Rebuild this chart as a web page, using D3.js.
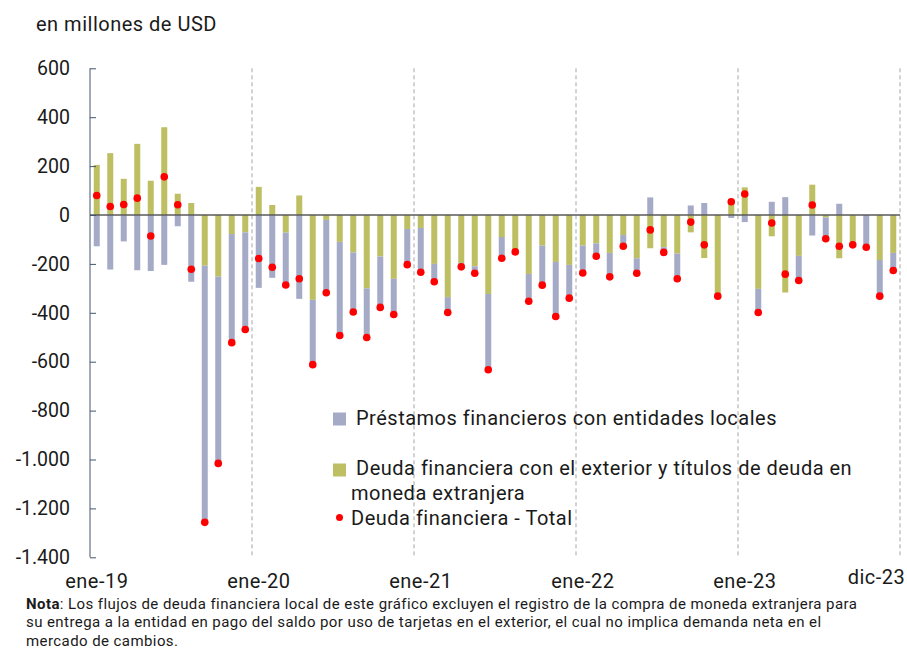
<!DOCTYPE html>
<html><head><meta charset="utf-8">
<script src="https://cdn.jsdelivr.net/npm/d3@7"></script>
<style>
body{margin:0;background:#fff;}
text{font-family:Roboto,"Liberation Sans",sans-serif;fill:#1a1a1a;}
</style></head>
<body><svg id="chart" width="907" height="649"></svg>
<script>
const years = ["19","20","21","22","23"];
const monthAbbr = ["ene","feb","mar","abr","may","jun","jul","ago","sep","oct","nov","dic"];
const categories = years.flatMap(y => monthAbbr.map(m => m + "-" + y));

const locales = [-128,-223,-108,-226,-229,-204,-46,-273,-1048,-764,-444,-397,
  -298,-257,-214,-343,-265,-298,-383,-244,-201,-208,-146,-146,
  -181,-73,-63,-16,-28,-310,-87,0,-112,-162,-223,-136,
  -112,-53,-98,-46,-61,72,-21,-103,39,49,0,-12,
  -29,-97,54,73,-101,-84,-87,46,0,-132,-148,-72];
const exterior = [205,253,148,291,140,359,87,49,-207,-252,-78,-71,
  115,41,-72,80,-347,-20,-110,-153,-300,-170,-261,-57,
  -53,-200,-336,-196,-210,-323,-90,-151,-241,-125,-192,-204,
  -125,-116,-155,-82,-177,-136,-132,-158,-71,-176,-332,66,
  113,-302,-87,-317,-167,124,-10,-177,-122,0,-184,-155];
const total = [80,35,43,69,-86,156,42,-222,-1257,-1016,-522,-468,
  -178,-214,-286,-261,-612,-318,-493,-397,-501,-378,-407,-203,
  -234,-273,-399,-212,-238,-633,-177,-151,-353,-287,-415,-340,
  -237,-169,-253,-128,-238,-61,-153,-261,-29,-122,-332,54,
  86,-399,-33,-242,-268,41,-97,-128,-122,-132,-332,-227];
const yTicks = [600,400,200,0,-200,-400,-600,-800,-1000,-1200,-1400];
const xLabelCats = ["ene-19","ene-20","ene-21","ene-22","ene-23","dic-23"];
const gridCats = ["ene-20","ene-21","ene-22","ene-23"];
const seriesNames = ["Préstamos financieros con entidades locales",
  "Deuda financiera con el exterior y títulos de deuda en|moneda extranjera",
  "Deuda financiera - Total"];
const colors = {locales:"#a5abc7", exterior:"#bdbf62", total:"#ff0000"};
const noteLines = [
  ["Nota", ": Los flujos de deuda financiera local de este gráfico excluyen el registro de la compra de moneda extranjera para"],
  ["", "su entrega a la entidad en pago del saldo por uso de tarjetas en el exterior, el cual no implica demanda neta en el"],
  ["", "mercado de cambios."]
];

const svg = d3.select("#chart");
const L = 90, R = 900, T = 68.3, B = 557.3;
const x = d3.scaleBand().domain(categories).range([L, R]).paddingInner(0.56).paddingOuter(0.28);
const y = d3.scaleLinear().domain([-1400, 600]).range([B, T]);
const locale = d3.formatLocale({decimal:",", thousands:".", grouping:[3], currency:["$",""], minus:"-"});
const fmt = locale.format(",d");
const boundary = c => x(c) - (x.step() - x.bandwidth())/2;

// grid lines (dashed)
svg.append("g").selectAll("line").data(gridCats).join("line")
  .attr("x1", d => boundary(d)).attr("x2", d => boundary(d))
  .attr("y1", T).attr("y2", B)
  .attr("stroke", "#a6a6a6").attr("stroke-width", 1).attr("stroke-dasharray", "4,3");
svg.append("line").attr("x1", R).attr("x2", R).attr("y1", T).attr("y2", B)
  .attr("stroke", "#a6a6a6").attr("stroke-width", 1).attr("stroke-dasharray", "4,3");

// stacked bars
const rows = categories.map((c,i) => ({cat:c, exterior:exterior[i], locales:locales[i]}));
const stack = d3.stack().keys(["exterior","locales"]).offset(d3.stackOffsetDiverging);
const stacked = stack(rows);
const bw = 6;
svg.append("g").selectAll("g").data(stacked).join("g")
  .attr("fill", d => colors[d.key])
  .selectAll("rect").data(d => d).join("rect")
  .attr("x", d => x(d.data.cat) + x.bandwidth()/2 - bw/2)
  .attr("width", bw)
  .attr("y", d => y(Math.max(d[0], d[1])))
  .attr("height", d => Math.abs(y(d[0]) - y(d[1])));

// zero line
svg.append("line").attr("x1", L).attr("x2", R).attr("y1", y(0)).attr("y2", y(0))
  .attr("stroke", "#5a5a5a").attr("stroke-width", 1.5);

// dots
svg.append("g").selectAll("circle").data(total).join("circle")
  .attr("cx", (d,i) => x(categories[i]) + x.bandwidth()/2)
  .attr("cy", d => y(d)).attr("r", 3.8).attr("fill", colors.total);

// y axis
const yAxis = svg.append("g").attr("transform", `translate(${L},0)`)
  .call(d3.axisLeft(y).tickValues(yTicks).tickFormat(fmt).tickSize(-6).tickPadding(20));
yAxis.select(".domain").attr("stroke", "#44546a").attr("d", `M0,${T}V${B}`);
yAxis.selectAll(".tick line").attr("stroke", "#44546a");
yAxis.selectAll(".tick text").attr("font-size", 19.5).attr("font-family", "Roboto").attr("fill", "#1a1a1a").attr("x", -20);

// x axis labels
const xAxis = svg.append("g").attr("transform", `translate(0,${B})`)
  .call(d3.axisBottom(x).tickValues(xLabelCats).tickSize(0).tickPadding(17));
xAxis.select(".domain").remove();
xAxis.selectAll(".tick text").attr("font-size", 20).attr("letter-spacing", "0.5px")
  .attr("font-family", "Roboto").attr("fill", "#1a1a1a")
  .attr("dy", d => d === "dic-23" ? "0.5em" : "0.71em")
  .attr("text-anchor", d => d === "dic-23" ? "end" : "middle")
  .attr("x", d => d === "dic-23" ? 12 : 0);

// title
svg.append("text").attr("x", 36).attr("y", 30.5).attr("font-size", 20).attr("letter-spacing", "0.5px").text("en millones de USD");

// legend
const lg = svg.append("g").attr("font-size", 20).attr("letter-spacing", "0.5px");
lg.append("rect").attr("x", 333).attr("y", 412.5).attr("width", 13).attr("height", 13).attr("fill", colors.locales);
lg.append("text").attr("x", 356).attr("y", 425).text(seriesNames[0]);
lg.append("rect").attr("x", 333).attr("y", 463.5).attr("width", 13).attr("height", 13).attr("fill", colors.exterior);
const parts = seriesNames[1].split("|");
lg.append("text").attr("x", 356).attr("y", 474.5).text(parts[0]);
lg.append("text").attr("x", 351).attr("y", 500).text(parts[1]);
lg.append("circle").attr("cx", 339.5).attr("cy", 517.5).attr("r", 3.5).attr("fill", colors.total);
lg.append("text").attr("x", 351).attr("y", 524.5).text(seriesNames[2]);

// note
const nt = svg.append("g").attr("font-size", 15).attr("letter-spacing", "0.42px");
noteLines.forEach((ln, i) => {
  const t = nt.append("text").attr("x", 26).attr("y", 609 + i*18.3);
  if (ln[0]) t.append("tspan").attr("font-weight", "bold").text(ln[0]);
  t.append("tspan").text(ln[1]);
});
</script></body></html>
